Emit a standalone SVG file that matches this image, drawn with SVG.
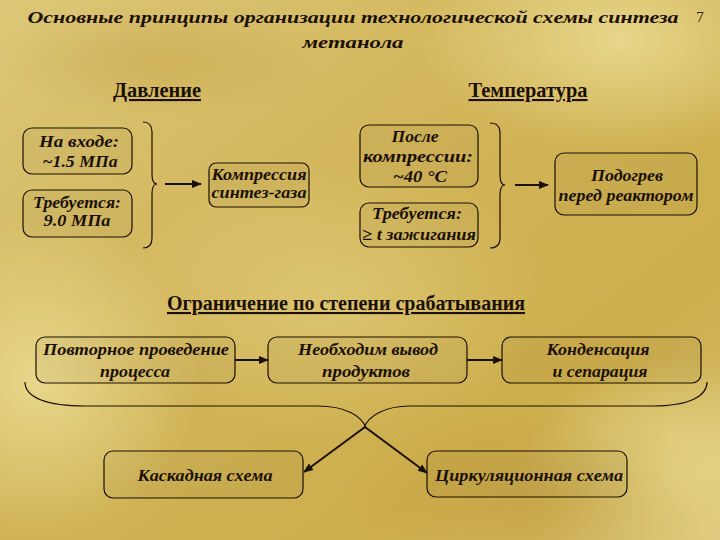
<svg xmlns="http://www.w3.org/2000/svg" width="720" height="540" viewBox="0 0 720 540">
<defs>
<linearGradient id="bg" x1="0" y1="0" x2="1" y2="1">
<stop offset="0" stop-color="#dcc677"/>
<stop offset="0.45" stop-color="#d2b458"/>
<stop offset="0.75" stop-color="#cdae4c"/>
<stop offset="1" stop-color="#d9c174"/>
</linearGradient>
<radialGradient id="hl1" cx="0.5" cy="0.5" r="0.5">
<stop offset="0" stop-color="#ecdf97" stop-opacity="0.8"/>
<stop offset="1" stop-color="#ecdf97" stop-opacity="0"/>
</radialGradient>
<radialGradient id="dk1" cx="0.5" cy="0.5" r="0.5">
<stop offset="0" stop-color="#c09c3c" stop-opacity="0.6"/>
<stop offset="1" stop-color="#c09c3c" stop-opacity="0"/>
</radialGradient>
<marker id="ah" viewBox="0 0 10 10" refX="9" refY="5" markerWidth="5" markerHeight="5" orient="auto" markerUnits="strokeWidth">
<path d="M0,1 L10,5 L0,9 z" fill="#1a1005"/>
</marker>
</defs>
<style>
.t{font-family:"Liberation Serif","Times New Roman",serif;font-weight:bold;font-style:italic;fill:#1a1005;text-anchor:middle;font-size:17px}
.h{font-family:"Liberation Serif","Times New Roman",serif;font-weight:bold;fill:#1a1005;text-anchor:middle;font-size:21px;text-decoration:underline}
.box{fill:#000;fill-opacity:0.03;stroke:#1a1005;stroke-width:1.2}
.br{fill:none;stroke:#1a1005;stroke-width:1.2}
.ar{fill:none;stroke:#1a1005;stroke-width:2;marker-end:url(#ah)}
</style>
<rect x="0" y="0" width="720" height="540" fill="url(#bg)"/>
<ellipse cx="40" cy="380" rx="160" ry="160" fill="url(#hl1)"/>
<ellipse cx="620" cy="40" rx="200" ry="110" fill="url(#hl1)"/>
<ellipse cx="680" cy="480" rx="160" ry="120" fill="url(#hl1)"/>
<ellipse cx="330" cy="300" rx="220" ry="140" fill="url(#hl1)" opacity="0.5"/>
<ellipse cx="540" cy="500" rx="200" ry="90" fill="url(#dk1)"/>
<ellipse cx="160" cy="60" rx="160" ry="60" fill="url(#dk1)" opacity="0.6"/>

<g id="title">
<text class="t" x="353" y="23" font-size="23" textLength="651" lengthAdjust="spacingAndGlyphs">Основные принципы организации технологической схемы синтеза</text>
<text class="t" x="353" y="48" font-size="23" textLength="101" lengthAdjust="spacingAndGlyphs">метанола</text>
<text x="700" y="22" font-family="Liberation Serif, serif" font-size="15" fill="#2a2010" text-anchor="middle">7</text>
</g>

<g id="heading-pressure"><text class="h" x="157" y="97" textLength="88" lengthAdjust="spacingAndGlyphs">Давление</text></g>
<g id="heading-temperature"><text class="h" x="528" y="97" textLength="119" lengthAdjust="spacingAndGlyphs">Температура</text></g>
<g id="heading-limit"><text class="h" x="346" y="310" textLength="358" lengthAdjust="spacingAndGlyphs">Ограничение по степени срабатывания</text></g>

<g id="n-inlet">
<rect class="box" x="23" y="128" width="109" height="46" rx="9"/>
<text class="t" x="79" y="147" textLength="80" lengthAdjust="spacingAndGlyphs">На входе:</text>
<text class="t" x="80" y="167" textLength="75" lengthAdjust="spacingAndGlyphs">~1.5 МПа</text>
</g>
<g id="n-required-p">
<rect class="box" x="23" y="190" width="109" height="47" rx="9"/>
<text class="t" x="77" y="208" textLength="88" lengthAdjust="spacingAndGlyphs">Требуется:</text>
<text class="t" x="77" y="226" textLength="67" lengthAdjust="spacingAndGlyphs">9.0 МПа</text>
</g>
<g id="n-compression">
<rect class="box" x="209" y="163" width="100" height="44" rx="7"/>
<text class="t" x="259" y="180" textLength="95" lengthAdjust="spacingAndGlyphs">Компрессия</text>
<text class="t" x="259" y="198" textLength="95" lengthAdjust="spacingAndGlyphs">синтез-газа</text>
</g>
<g id="n-after">
<rect class="box" x="360" y="125" width="118" height="62" rx="9"/>
<text class="t" x="415" y="142" textLength="47" lengthAdjust="spacingAndGlyphs">После</text>
<text class="t" x="418" y="162" textLength="110" lengthAdjust="spacingAndGlyphs">компрессии:</text>
<text class="t" x="420" y="182" textLength="54" lengthAdjust="spacingAndGlyphs">~40 °C</text>
</g>
<g id="n-required-t">
<rect class="box" x="360" y="203" width="118" height="44" rx="9"/>
<text class="t" x="417" y="219" textLength="90" lengthAdjust="spacingAndGlyphs">Требуется:</text>
<text class="t" x="419" y="240" textLength="114" lengthAdjust="spacingAndGlyphs">≥ t зажигания</text>
</g>
<g id="n-preheat">
<rect class="box" x="555" y="153" width="142" height="62" rx="9"/>
<text class="t" x="627" y="181" font-size="16" textLength="72" lengthAdjust="spacingAndGlyphs">Подогрев</text>
<text class="t" x="626" y="201" font-size="16" textLength="135" lengthAdjust="spacingAndGlyphs">перед реактором</text>
</g>
<g id="n-repeat">
<rect class="box" x="36" y="337" width="199" height="46" rx="9"/>
<text class="t" x="136" y="355" textLength="186" lengthAdjust="spacingAndGlyphs">Повторное проведение</text>
<text class="t" x="135" y="377" textLength="70" lengthAdjust="spacingAndGlyphs">процесса</text>
</g>
<g id="n-withdraw">
<rect class="box" x="268" y="337" width="199" height="46" rx="9"/>
<text class="t" x="368" y="355" textLength="140" lengthAdjust="spacingAndGlyphs">Необходим вывод</text>
<text class="t" x="366" y="377" textLength="88" lengthAdjust="spacingAndGlyphs">продуктов</text>
</g>
<g id="n-condense">
<rect class="box" x="502" y="337" width="199" height="46" rx="9"/>
<text class="t" x="598" y="355" textLength="103" lengthAdjust="spacingAndGlyphs">Конденсация</text>
<text class="t" x="600" y="377" textLength="95" lengthAdjust="spacingAndGlyphs">и сепарация</text>
</g>
<g id="n-cascade">
<rect class="box" x="104" y="451" width="199" height="47" rx="9"/>
<text class="t" x="205" y="481" textLength="135" lengthAdjust="spacingAndGlyphs">Каскадная схема</text>
</g>
<g id="n-circ">
<rect class="box" x="427" y="451" width="200" height="46" rx="9"/>
<text class="t" x="529" y="481" textLength="188" lengthAdjust="spacingAndGlyphs">Циркуляционная схема</text>
</g>

<g id="connectors">
<path class="br" d="M143,122 Q152,122 152,132 L152,174 Q152,184 157,184 Q152,184 152,194 L152,238 Q152,248 143,248"/>
<path class="br" d="M490,123 Q500,123 500,133 L500,175 Q500,185 505,185 Q500,185 500,195 L500,238 Q500,248 490,248"/>
<path class="br" d="M25,382 C25,398 48,406 85,406 L318,406 C345,406 362,416 366,428"/>
<path class="br" d="M707,382 C707,396 690,406 652,406 L410,406 C385,406 368,416 364,428"/>
<line class="ar" x1="165" y1="184" x2="201" y2="184"/>
<line class="ar" x1="515" y1="185" x2="548" y2="185"/>
<line class="ar" x1="235" y1="360" x2="268" y2="360" stroke-width="1.5"/>
<line class="ar" x1="467" y1="360" x2="502" y2="360" stroke-width="1.5"/>
<line class="ar" x1="365" y1="427" x2="304" y2="472"/>
<line class="ar" x1="365" y1="427" x2="427" y2="473"/>
</g>
</svg>
